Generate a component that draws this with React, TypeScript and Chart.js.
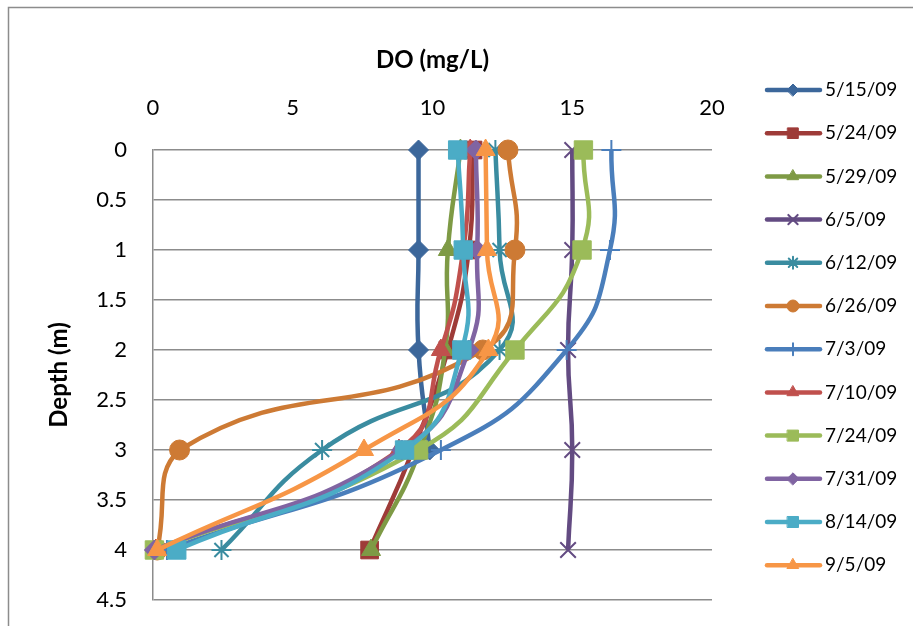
import React, { useEffect, useRef } from 'react';
import { Chart, registerables } from 'chart.js';
import { drawPoint } from 'chart.js/helpers';

Chart.register(...registerables);

// ---- data ----
const depths = [0, 1, 2, 3, 4];
const seriesNames = ['5/15/09', '5/24/09', '5/29/09', '6/5/09', '6/12/09', '6/26/09', '7/3/09', '7/10/09', '7/24/09', '7/31/09', '8/14/09', '9/5/09'];
const do0515 = [9.5, 9.5, 9.5, 9.9];
const do0524 = [11.45, 11.3, 10.55, 9.3, 7.75];
const do0529 = [11.0, 10.55, 10.45, 9.55, 7.8];
const do0605 = [15.0, 15.0, 14.85, 15.0, 14.85];
const do0612 = [12.25, 12.4, 12.4, 6.05, 2.45];
const do0626 = [12.7, 12.95, 11.8, 0.95, 0.15];
const do0703 = [16.4, 16.35, 14.8, 10.3, 0.5];
const do0710 = [11.35, 11.1, 10.3, 8.8, 0.1];
const do0724 = [15.4, 15.35, 12.95, 9.5, 0.05];
const do0731 = [11.55, 11.6, 11.3, 8.9, 0.05];
const do0814 = [10.9, 11.1, 11.05, 9.0, 0.85];
const do0905 = [11.9, 11.95, 12.0, 7.55, 0.15];
const seriesValues = [do0515, do0524, do0529, do0605, do0612, do0626, do0703, do0710, do0724, do0731, do0814, do0905];

const xMin = 0, xMax = 20, xStep = 5;
const yMin = 0, yMax = 4.5, yStep = 0.5;
const xTitle = 'DO (mg/L)';
const yTitle = 'Depth (m)';

// ---- styles ----
const colors = ['#3C679B', '#9E3B38', '#7E9A45', '#634B82', '#3A8CA0', '#CD7A34', '#4A7EBB', '#C0504D', '#9BBB59', '#8064A2', '#4BACC6', '#F79646'];
const markers: any[] = [
  ['rectRot', 10, 1], ['rect', 12.5, 1], ['triangle', 11, 1], ['crossRot', 11, 2],
  ['star', 10, 2], ['circle', 10, 1], ['cross', 10, 2], ['triangle', 11, 1],
  ['rect', 13, 1], ['rectRot', 10, 1], ['rect', 13, 1], ['triangle', 11, 1],
];

const FONT = 'Lato, "Open Sans", sans-serif';

const framePlugin = {
  id: 'frame',
  beforeDraw(chart: any) {
    const ctx = chart.ctx;
    ctx.save();
    ctx.fillStyle = '#fff';
    ctx.fillRect(0, 0, chart.width, chart.height);
    ctx.strokeStyle = '#8c8c8c';
    ctx.lineWidth = 1.5;
    ctx.beginPath();
    ctx.moveTo(8.5, chart.height + 5);
    ctx.lineTo(8.5, 7.5);
    ctx.lineTo(chart.width + 5, 7.5);
    ctx.stroke();
    ctx.restore();
  },
};

const legendPlugin = {
  id: 'sideLegend',
  afterDraw(chart: any) {
    const ctx = chart.ctx;
    const x0 = 767, x1 = 820, xm = 793, xt = 825, yTop = 90, gap = 43.2;
    chart.data.datasets.forEach((ds: any, i: number) => {
      const y = yTop + i * gap;
      ctx.save();
      ctx.strokeStyle = ds.borderColor;
      ctx.lineWidth = 4.5;
      ctx.lineCap = 'round';
      ctx.beginPath();
      ctx.moveTo(x0, y);
      ctx.lineTo(x1, y);
      ctx.stroke();
      ctx.fillStyle = ds.pointBackgroundColor;
      ctx.strokeStyle = ds.pointBorderColor;
      ctx.lineWidth = ds.pointBorderWidth;
      drawPoint(ctx, { pointStyle: ds.pointStyle, rotation: 0, radius: ds.pointRadius * 0.6, borderWidth: ds.pointBorderWidth }, xm, y);
      ctx.fillStyle = '#000';
      ctx.font = `19px ${FONT}`;
      ctx.textBaseline = 'middle';
      ctx.textAlign = 'left';
      ctx.fillText(ds.label, xt, y);
      ctx.restore();
    });
  },
};

export default function App() {
  const ref = useRef<HTMLCanvasElement>(null);
  useEffect(() => {
    if (!ref.current) return;
    Chart.defaults.font.family = FONT;
    Chart.defaults.color = '#000';
    const datasets = seriesValues.map((vals, i) => ({
      label: seriesNames[i],
      data: vals.map((v, j) => ({ x: v, y: depths[j] })),
      borderColor: colors[i],
      backgroundColor: colors[i],
      pointBackgroundColor: colors[i],
      pointBorderColor: colors[i],
      pointStyle: markers[i][0],
      pointRadius: markers[i][1],
      pointBorderWidth: markers[i][2],
      borderWidth: 4.5,
      showLine: true,
      tension: 0.5,
      clip: false as any,
      order: seriesValues.length - i,
    }));
    const chart = new Chart(ref.current, {
      type: 'scatter',
      data: { datasets },
      options: {
        animation: false,
        responsive: false,
        layout: { padding: { left: 0, top: 0, right: 201, bottom: 26 } },
        plugins: { legend: { display: false }, tooltip: { enabled: false } },
        scales: {
          x: {
            type: 'linear',
            position: 'top',
            min: xMin,
            max: xMax,
            ticks: { stepSize: xStep, padding: 29, font: { size: 22 }, color: '#000' },
            grid: { display: false, drawTicks: false },
            border: { display: false },
            title: { display: true, text: xTitle, font: { size: 24, weight: 'bold' }, color: '#000', padding: { top: 46, bottom: 0 } },
            afterFit: (s: any) => { s.height = 150; s.paddingLeft = 0; s.paddingRight = 0; },
          },
          y: {
            type: 'linear',
            reverse: true,
            min: yMin,
            max: yMax,
            ticks: { stepSize: yStep, padding: 26, font: { size: 22 }, color: '#000', callback: (v: any) => String(v) },
            grid: { color: '#8c8c8c', lineWidth: 1.5, drawTicks: false },
            border: { display: true, color: '#8c8c8c', width: 1.5 },
            title: { display: true, text: yTitle, font: { size: 24, weight: 'bold' }, color: '#000', padding: { top: 45, bottom: 0 } },
            afterFit: (s: any) => { s.width = 153; s.paddingTop = 0; s.paddingBottom = 0; },
          },
        },
      },
      plugins: [framePlugin, legendPlugin],
    });
    return () => chart.destroy();
  }, []);
  return (
    <div style={{ position: 'fixed', left: 0, top: 0, width: 913, height: 626, overflow: 'hidden' }}>
      <canvas ref={ref} width={913} height={626} style={{ width: 913, height: 626, display: 'block' }} />
    </div>
  );
}
